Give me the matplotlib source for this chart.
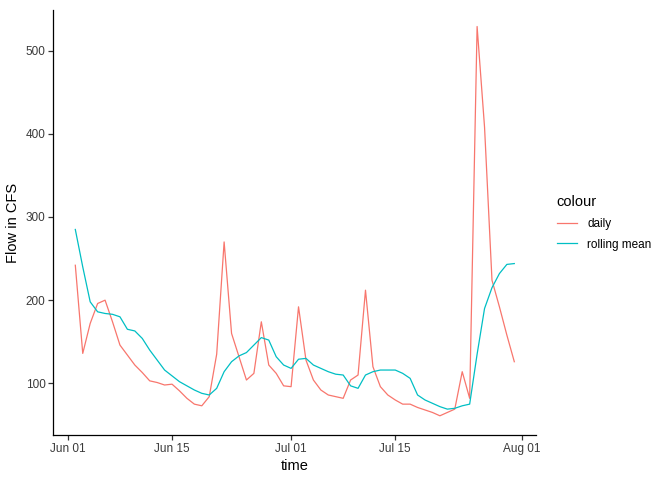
import numpy as np
import pandas as pd
import matplotlib
matplotlib.use("Agg")
import matplotlib.pyplot as plt
import matplotlib.dates as mdates

plt.rcParams['font.family'] = ['Liberation Sans', 'DejaVu Sans']

# daily flow, Jun 02 .. Jul 31
time = pd.date_range('2019-06-02', '2019-07-31', freq='D')
daily = [242, 136, 172, 196, 200, 174, 146, 134, 122, 113,
         103, 101, 98, 99, 91, 82, 75, 73, 84, 135,
         270, 160, 132, 104, 112, 174, 122, 112, 97, 96,
         192, 128, 104, 92, 86, 84, 82, 104, 110, 212,
         120, 96, 86, 80, 75, 75, 71, 68, 65, 61,
         65, 69, 114, 82, 529, 408, 224, 192, 158, 126]
rolling = [285, 240, 198, 186, 184, 183, 180, 165, 163, 154,
           140, 128, 116, 109, 102, 97, 92, 88, 86, 94,
           114, 126, 133, 137, 146, 155, 152, 132, 122, 118,
           129, 130, 122, 118, 114, 111, 110, 97, 94, 110,
           114, 116, 116, 116, 112, 106, 86, 80, 76, 72,
           69, 70, 73, 75, 135, 190, 215, 232, 243, 244]

fig = plt.figure(figsize=(6.72, 4.8), dpi=100)
ax = fig.add_axes([0.0794, 0.09375, 0.7186, 0.8855])

ax.plot(time, daily, color='#F8766D', lw=0.9, label='daily')
ax.plot(time, rolling, color='#00BFC4', lw=0.9, label='rolling mean')

ax.set_ylim(37.9, 548.9)
ax.set_yticks([100, 200, 300, 400, 500])
xt = pd.to_datetime(['2019-06-01', '2019-06-15', '2019-07-01', '2019-07-15', '2019-08-01'])
ax.set_xticks(xt)
ax.xaxis.set_major_formatter(mdates.DateFormatter('%b %d'))
span = (time[-1] - time[0]) * 0.05
ax.set_xlim(time[0] - span, time[-1] + span)

for s in ['top', 'right']:
    ax.spines[s].set_visible(False)
for s in ['left', 'bottom']:
    ax.spines[s].set_linewidth(0.9)
    ax.spines[s].set_color('black')
ax.tick_params(length=3.6, width=0.9, color='#333333', labelcolor='#3a3a3a',
               labelsize=8.5, pad=2)

ax.set_xlabel('time', fontsize=10.5, labelpad=3)
ax.set_ylabel('Flow in CFS', fontsize=10.5, labelpad=4)

leg = ax.legend(loc='upper left', bbox_to_anchor=(1.02, 0.59), frameon=False,
                title='colour', fontsize=8.5, title_fontsize=10.5,
                handlelength=1.7, handletextpad=0.9, labelspacing=0.75,
                alignment='left')

fig.savefig('out.png', dpi=100)
